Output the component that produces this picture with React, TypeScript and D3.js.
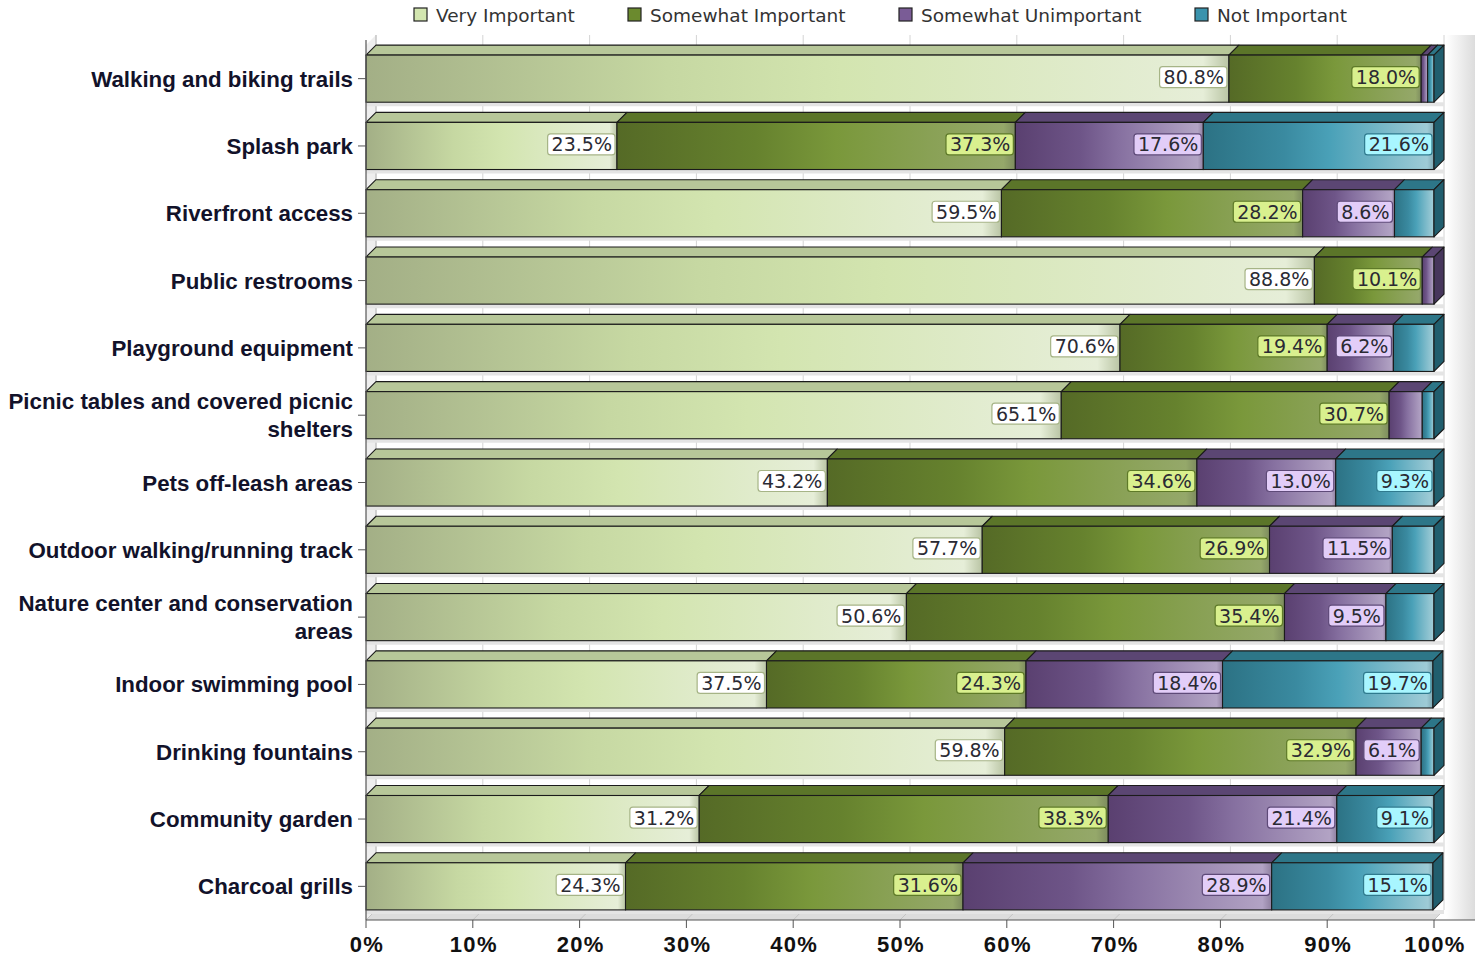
import React, { useEffect, useRef } from "react";
import * as d3 from "d3";

const categories = [
  "Walking and biking trails",
  "Splash park",
  "Riverfront access",
  "Public restrooms",
  "Playground equipment",
  "Picnic tables and covered picnic|shelters",
  "Pets off-leash areas",
  "Outdoor walking/running track",
  "Nature center and conservation|areas",
  "Indoor swimming pool",
  "Drinking fountains",
  "Community garden",
  "Charcoal grills",
];
const veryImportant = [80.8, 23.5, 59.5, 88.8, 70.6, 65.1, 43.2, 57.7, 50.6, 37.5, 59.8, 31.2, 24.3];
const somewhatImportant = [18.0, 37.3, 28.2, 10.1, 19.4, 30.7, 34.6, 26.9, 35.4, 24.3, 32.9, 38.3, 31.6];
const somewhatUnimportant = [0.6, 17.6, 8.6, 1.1, 6.2, 3.1, 13.0, 11.5, 9.5, 18.4, 6.1, 21.4, 28.9];
const notImportant = [0.6, 21.6, 3.7, 0.0, 3.8, 1.1, 9.3, 3.9, 4.5, 19.7, 1.2, 9.1, 15.1];
const seriesNames = ["Very Important", "Somewhat Important", "Somewhat Unimportant", "Not Important"];
const xTicks = [0, 10, 20, 30, 40, 50, 60, 70, 80, 90, 100];

const styles = [
  { stops: ["#a3af86", "#c6d8a2", "#d3e5b0", "#e6eed8", "#b9c4a4"], top: "#b7c799", side: "#8f9c74", swatch: "#d3e6b0", box: "#ffffff", boxStroke: "#a6b486" },
  { stops: ["#556a26", "#66822e", "#7a983b", "#95a86a", "#7d8c5e"], top: "#5b7529", side: "#4a5e20", swatch: "#6b8a2e", box: "#d9f08e", boxStroke: "#5e7a28" },
  { stops: ["#5a4070", "#6e5588", "#8670a0", "#b2a3c4", "#8f80a0"], top: "#5b4673", side: "#47365c", swatch: "#7a5c96", box: "#e2cdf8", boxStroke: "#5e4a78" },
  { stops: ["#2c7284", "#3a8aa0", "#4aa1b8", "#9ecbd6", "#7ea8b4"], top: "#2d7688", side: "#215e6e", swatch: "#3a93ad", box: "#a8f6ff", boxStroke: "#2f7a8e" },
];

export default function App() {
  const ref = useRef<SVGSVGElement>(null);
  useEffect(() => {
    const svg = d3.select(ref.current);
    svg.selectAll("*").remove();
    const W = 1475;
    const x0 = 366, x1 = 1434, yTop = 45, yBot = 920, dx = 10, dy = 10;
    const x = d3.scaleLinear().domain([0, 100]).range([x0, x1]);
    const y = d3.scaleBand().domain(categories).range([yTop, yBot]).paddingInner(0.3).paddingOuter(0.15);
    const defs = svg.append("defs");
    styles.forEach((s, i) => {
      const g = defs.append("linearGradient").attr("id", "g" + i).attr("x1", 0).attr("x2", 1).attr("y1", 0).attr("y2", 0);
      const offs = [0, 0.35, 0.55, 0.97, 1];
      s.stops.forEach((c, j) => g.append("stop").attr("offset", offs[j]).attr("stop-color", c));
    });
    const rg = defs.append("linearGradient").attr("id", "rside").attr("x1", 0).attr("x2", 1);
    rg.append("stop").attr("offset", 0).attr("stop-color", "#ffffff");
    rg.append("stop").attr("offset", 1).attr("stop-color", "#dcdcdc");

    const root = svg.append("g");
    root.append("rect").attr("x", x1 + dx + 2).attr("y", yTop - dy).attr("width", W - (x1 + dx + 2)).attr("height", yBot - yTop + dy).attr("fill", "url(#rside)");
    root.append("path").attr("d", `M${x0},${yTop}L${x0 + dx},${yTop - dy}L${x0 + dx},${yBot - dy}L${x0},${yBot}Z`).attr("fill", "#eeeeee");
    root.append("path").attr("d", `M${x0},${yBot}L${x0 + dx},${yBot - dy}L${x1 + dx},${yBot - dy}L${x1},${yBot}Z`).attr("fill", "#dcdcdc");
    xTicks.forEach((t) => {
      root.append("line").attr("x1", x(t) + dx).attr("x2", x(t) + dx).attr("y1", yTop - dy).attr("y2", yBot - dy).attr("stroke", "#d4d4d4").attr("stroke-width", 1);
      root.append("line").attr("x1", x(t)).attr("x2", x(t) + dx).attr("y1", yBot).attr("y2", yBot - dy).attr("stroke", "#c4c4c4").attr("stroke-width", 1);
    });
    root.append("line").attr("x1", x0 + dx).attr("x2", x0 + dx).attr("y1", yTop - dy).attr("y2", yBot - dy).attr("stroke", "#bdbdbd");
    categories.forEach((c) => {
      const yb = (y(c) as number) + y.bandwidth();
      root.append("line").attr("x1", x0).attr("x2", x1 + dx).attr("y1", yb + 2).attr("y2", yb + 2).attr("stroke", "#e4e4e4").attr("stroke-width", 4);
    });

    const data = [veryImportant, somewhatImportant, somewhatUnimportant, notImportant];
    const bars = root.append("g");
    const labels = root.append("g");
    categories.forEach((c, ci) => {
      const by = y(c) as number;
      const bh = y.bandwidth();
      const cy = by + bh / 2;
      let cum = 0;
      const segs: { a: number; b: number; s: number; v: number }[] = [];
      data.forEach((arr, si) => {
        const v = arr[ci];
        if (v > 0) segs.push({ a: cum, b: cum + v, s: si, v });
        cum += v;
      });
      const g = bars.append("g");
      segs.forEach((sg, k) => {
        const xa = x(sg.a), xb = x(Math.min(sg.b, 100));
        const st = styles[sg.s];
        g.append("path").attr("d", `M${xa},${by}L${xa + dx},${by - dy}L${xb + dx},${by - dy}L${xb},${by}Z`)
          .attr("fill", st.top).attr("stroke", "#1b1b1b").attr("stroke-width", 1.1).attr("stroke-linejoin", "round");
        g.append("rect").attr("x", xa).attr("y", by).attr("width", Math.max(0, xb - xa)).attr("height", bh)
          .attr("fill", `url(#g${sg.s})`).attr("stroke", "#1b1b1b").attr("stroke-width", 1.1);
        if (k === segs.length - 1) {
          g.append("path").attr("d", `M${xb},${by}L${xb + dx},${by - dy}L${xb + dx},${by + bh - dy}L${xb},${by + bh}Z`)
            .attr("fill", st.side).attr("stroke", "#1b1b1b").attr("stroke-width", 1.1).attr("stroke-linejoin", "round");
        }
        if (sg.v >= 5) {
          const txt = sg.v.toFixed(1) + "%";
          const lg = labels.append("g");
          const t = lg.append("text").attr("font-family", "DejaVu Sans, Verdana, sans-serif").attr("font-size", 19)
            .attr("fill", "#2a2a33").attr("text-anchor", "end").attr("x", xb - 5).attr("y", cy + 5.5).text(txt);
          const w = (t.node() as SVGTextElement).getComputedTextLength();
          lg.insert("rect", "text").attr("x", xb - 9 - w).attr("y", cy - 12).attr("width", w + 7).attr("height", 21)
            .attr("rx", 3).attr("fill", st.box).attr("stroke", st.boxStroke).attr("stroke-width", 1.2);
        }
      });
    });

    root.append("line").attr("x1", x0).attr("x2", x0).attr("y1", yTop - 5).attr("y2", yBot).attr("stroke", "#555").attr("stroke-width", 1.2);
    root.append("line").attr("x1", x0).attr("x2", W).attr("y1", yBot).attr("y2", yBot).attr("stroke", "#555").attr("stroke-width", 1.2);
    xTicks.forEach((t) => {
      root.append("line").attr("x1", x(t)).attr("x2", x(t)).attr("y1", yBot).attr("y2", yBot + 8).attr("stroke", "#555");
      root.append("text").attr("x", x(t) + 1).attr("y", 952).attr("text-anchor", "middle")
        .attr("font-family", "Liberation Sans, Arial, sans-serif").attr("font-weight", "bold").attr("font-size", 22)
        .attr("letter-spacing", 1.3).attr("fill", "#111").text(t + "%");
    });
    categories.forEach((c) => {
      const cy = (y(c) as number) + y.bandwidth() / 2;
      root.append("line").attr("x1", x0 - 8).attr("x2", x0).attr("y1", cy).attr("y2", cy).attr("stroke", "#555");
      const lines = c.split("|");
      const t = root.append("text").attr("text-anchor", "end").attr("font-family", "Liberation Sans, Arial, sans-serif")
        .attr("font-weight", "bold").attr("font-size", 22.3).attr("fill", "#12122a");
      lines.forEach((ln, i) => {
        t.append("tspan").attr("x", 353).attr("y", cy + 8 + (i - (lines.length - 1) / 2) * 28).text(ln);
      });
    });

    const legX = [414, 628, 899, 1195];
    seriesNames.forEach((n, i) => {
      root.append("rect").attr("x", legX[i]).attr("y", 8).attr("width", 13).attr("height", 13)
        .attr("fill", styles[i].swatch).attr("stroke", "#222").attr("stroke-width", 1.2);
      root.append("text").attr("x", legX[i] + 22).attr("y", 22).attr("font-family", "DejaVu Sans, Verdana, sans-serif")
        .attr("font-size", 18.5).attr("fill", "#333").text(n);
    });
  }, []);
  return (
    <svg ref={ref} width={1475} height={956} style={{ position: "absolute", left: 0, top: 0, background: "#fff" }} />
  );
}
